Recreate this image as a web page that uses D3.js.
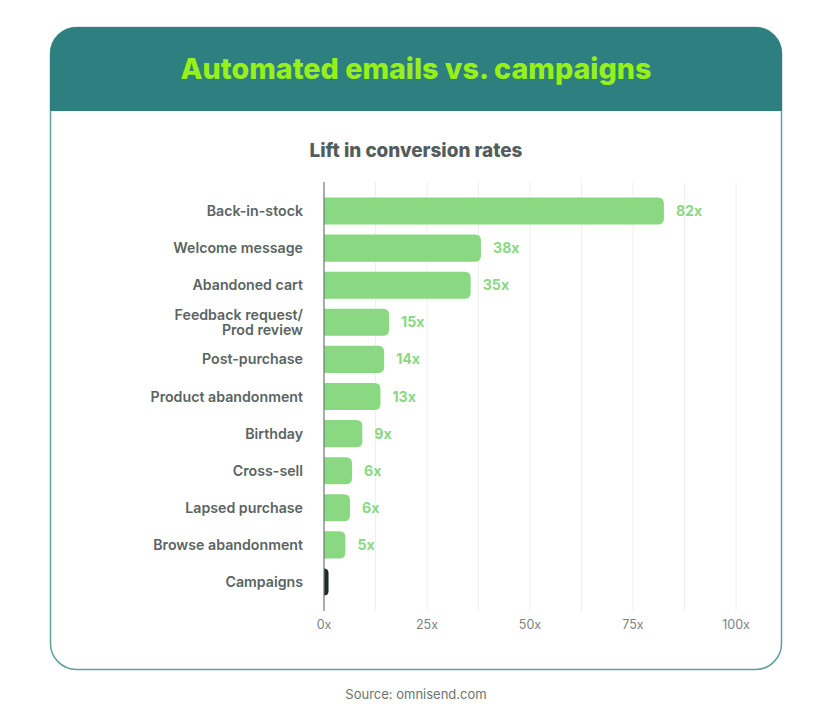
<!DOCTYPE html>
<html>
<head>
<meta charset="utf-8">
<script src="https://d3js.org/d3.v7.min.js"></script>
<style>
  body { margin: 0; background: #fff; }
  text { font-family: Inter, "Noto Sans", sans-serif; }
</style>
</head>
<body>
<div id="chart"></div>
<script>
// values
var categories = [
  "Back-in-stock", "Welcome message", "Abandoned cart", "Feedback request/|Prod review",
  "Post-purchase", "Product abandonment", "Birthday", "Cross-sell",
  "Lapsed purchase", "Browse abandonment", "Campaigns"
];
var barValues = [82.5, 38.1, 35.6, 15.8, 14.6, 13.7, 9.3, 6.8, 6.3, 5.2, 1.1];
var barLabels = ["82x", "38x", "35x", "15x", "14x", "13x", "9x", "6x", "6x", "5x", ""];
var tickValues = [0, 25, 50, 75, 100];
var gridValues = [12.5, 25, 37.5, 50, 62.5, 75, 87.5, 100];

var svgWidth = 832;
var svgHeight = 720;

var svg = d3.select("#chart")
  .append("svg")
  .attr("width", svgWidth)
  .attr("height", svgHeight)
  .style("display", "block");

// card: white body with teal border, then teal header on top
var teal = "#2e7f7f";
svg.append("rect")
  .attr("x", 50.5).attr("y", 27.5)
  .attr("width", 731).attr("height", 642)
  .attr("rx", 26)
  .attr("fill", "#fff")
  .attr("stroke", "#5f9f9f")
  .attr("stroke-width", 1.5);

svg.append("path")
  .attr("d", "M50,111 V54 A27,27 0 0 1 77,27 H755 A27,27 0 0 1 782,54 V111 Z")
  .attr("fill", teal);

svg.append("text")
  .attr("x", 416).attr("y", 79)
  .attr("text-anchor", "middle")
  .attr("font-size", 28.7)
  .attr("font-weight", 800)
  .attr("fill", "#97f01a")
  .text("Automated emails vs. campaigns");

svg.append("text")
  .attr("x", 416).attr("y", 157)
  .attr("text-anchor", "middle")
  .attr("font-size", 18.9)
  .attr("font-weight", 800)
  .attr("fill", "#535d5b")
  .text("Lift in conversion rates");

var xScale = d3.scaleLinear().domain([0, 100]).range([324, 736]);
var yScale = d3.scaleBand().domain(categories).range([192.5, 600.5])
  .paddingInner(0.27).paddingOuter(0.135);

// gridlines
svg.selectAll(".grid")
  .data(gridValues)
  .enter()
  .append("line")
  .attr("class", "grid")
  .attr("x1", d => xScale(d)).attr("x2", d => xScale(d))
  .attr("y1", 182).attr("y2", 611)
  .attr("stroke", "#eef0f0")
  .attr("stroke-width", 1);

// bars have square left end, rounded right end
function barPath(d, i) {
  var x0 = xScale(0);
  var x1 = xScale(d);
  var y0 = yScale(categories[i]);
  var h = yScale.bandwidth();
  var r = Math.min(6, x1 - x0);
  return `M${x0},${y0} H${x1 - r} Q${x1},${y0} ${x1},${y0 + r} V${y0 + h - r} Q${x1},${y0 + h} ${x1 - r},${y0 + h} H${x0} Z`;
}

svg.selectAll(".bar")
  .data(barValues)
  .enter()
  .append("path")
  .attr("class", "bar")
  .attr("d", barPath)
  .attr("fill", (d, i) => categories[i] === "Campaigns" ? "#1f2a2a" : "#8ad982");

// value labels
svg.selectAll(".value")
  .data(barValues)
  .enter()
  .append("text")
  .attr("class", "value")
  .attr("x", d => xScale(d) + 12)
  .attr("y", (d, i) => yScale(categories[i]) + yScale.bandwidth() / 2 + 5)
  .attr("font-size", 14.2)
  .attr("font-weight", 700)
  .attr("fill", "#8ad982")
  .text((d, i) => barLabels[i]);

// category labels, "|" marks a line break
var catLabels = svg.selectAll(".cat")
  .data(categories)
  .enter()
  .append("text")
  .attr("class", "cat")
  .attr("text-anchor", "end")
  .attr("font-size", 14.2)
  .attr("font-weight", 600)
  .attr("fill", "#5a6462");

catLabels.each(function(d) {
  var lines = d.split("|");
  var mid = yScale(d) + yScale.bandwidth() / 2;
  d3.select(this).selectAll("tspan")
    .data(lines)
    .enter()
    .append("tspan")
    .attr("x", 303)
    .attr("y", (l, i) => mid + 5 + (i - (lines.length - 1) / 2) * 15)
    .text(l => l);
});

// axis line and tick labels
svg.append("line")
  .attr("x1", xScale(0)).attr("x2", xScale(0))
  .attr("y1", 182).attr("y2", 611)
  .attr("stroke", "#6d7675")
  .attr("stroke-width", 1.2);

svg.selectAll(".tick-label")
  .data(tickValues)
  .enter()
  .append("text")
  .attr("class", "tick-label")
  .attr("x", d => xScale(d))
  .attr("y", 629)
  .attr("text-anchor", "middle")
  .attr("font-size", 12.5)
  .attr("fill", "#7a8281")
  .text(d => d + "x");

svg.append("text")
  .attr("x", 416).attr("y", 699)
  .attr("text-anchor", "middle")
  .attr("font-size", 13)
  .attr("fill", "#6b7473")
  .text("Source: omnisend.com");
</script>
</body>
</html>
